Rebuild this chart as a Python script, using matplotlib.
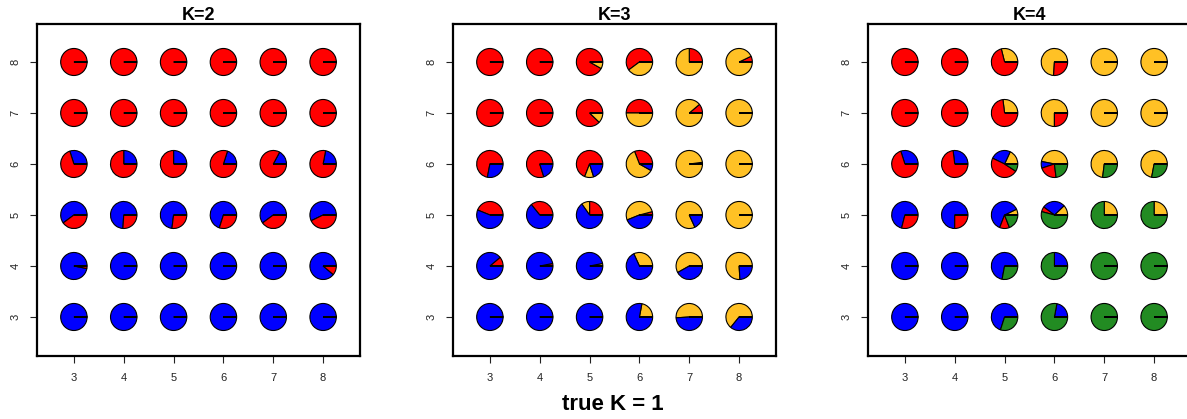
import matplotlib
matplotlib.use('Agg')
import matplotlib.pyplot as plt
from matplotlib.patches import Wedge
import numpy as np

plt.rcParams['font.family'] = ['Liberation Sans', 'DejaVu Sans']

xs = [3, 4, 5, 6, 7, 8]
ys = [3, 4, 5, 6, 7, 8]

# colours used by the clusters
col_red = '#FF0000'
col_blue = '#0000FF'
col_gold = '#FFC125'
col_green = '#228B22'

# K=2 panel, sector order: blue, red ; rows are y=3..8, cols x=3..8
k2_blue = [[1, 1, 1, 1, 1, 1],
           [0.97, 1, 1, 1, 1, 0.89],
           [0.6, 0.74, 0.73, 0.7, 0.6, 0.57],
           [0.3, 0.25, 0.25, 0.2, 0.17, 0.22],
           [0, 0, 0, 0, 0, 0],
           [0, 0, 0, 0, 0, 0]]

# K=3 panel, sector order: red, gold, blue
k3_red = [[0, 0, 0, 0, 0, 0],
          [0.11, 0.03, 0, 0, 0, 0],
          [0.44, 0.36, 0.25, 0.04, 0, 0],
          [0.72, 0.8, 0.69, 0.31, 0.02, 0],
          [1, 1, 0.88, 0.5, 0.11, 0],
          [1, 1, 0.92, 0.6, 0.25, 0.07]]
k3_gold = [[0, 0, 0, 0.22, 0.51, 0.64],
           [0, 0, 0.03, 0.32, 0.58, 0.76],
           [0, 0, 0.1, 0.52, 0.82, 1],
           [0, 0, 0.11, 0.61, 0.98, 1],
           [0, 0, 0.12, 0.5, 0.89, 1],
           [0, 0, 0.08, 0.4, 0.75, 0.93]]

# K=4 panel, sector order: gold, blue, red, green
k4_gold = [[0, 0, 0, 0, 0, 0],
           [0, 0, 0, 0, 0, 0],
           [0, 0, 0.07, 0.12, 0.25, 0.25],
           [0, 0, 0.18, 0.47, 0.73, 0.72],
           [0, 0, 0.27, 0.75, 1, 1],
           [0, 0, 0.29, 0.74, 1, 1]]
k4_blue = [[1, 1, 0.7, 0.22, 0, 0],
           [1, 1, 0.72, 0.25, 0, 0],
           [0.71, 0.75, 0.62, 0.28, 0, 0],
           [0.3, 0.27, 0.25, 0.08, 0, 0],
           [0, 0, 0, 0, 0, 0],
           [0, 0, 0, 0, 0, 0]]
k4_red = [[0, 0, 0, 0, 0, 0],
          [0, 0, 0, 0, 0, 0],
          [0.29, 0.25, 0.12, 0.06, 0, 0],
          [0.7, 0.73, 0.48, 0.22, 0, 0],
          [1, 1, 0.73, 0.25, 0, 0],
          [1, 1, 0.71, 0.26, 0, 0]]

titles = ['K=2', 'K=3', 'K=4']


def panel_fracs(k):
    # returns list of (fractions grid, colour) in drawing order
    if k == 0:
        b = np.array(k2_blue)
        return [(b, col_blue), (1 - b, col_red)]
    if k == 1:
        r = np.array(k3_red); g = np.array(k3_gold)
        return [(r, col_red), (g, col_gold), (np.clip(1 - r - g, 0, 1), col_blue)]
    g = np.array(k4_gold); b = np.array(k4_blue); r = np.array(k4_red)
    return [(g, col_gold), (b, col_blue), (r, col_red),
            (np.clip(1 - g - b - r, 0, 1), col_green)]


fig = plt.figure(figsize=(11.87, 4.19), dpi=100)
W, H = 1187.0, 419.0
lefts = [37, 453, 868]
rad = 0.265

for k in range(3):
    ax = fig.add_axes([lefts[k] / W, (H - 356) / H, 323 / W, 332 / H])
    ax.set_xlim(2.26, 8.74)
    ax.set_ylim(2.235, 8.745)
    segs = panel_fracs(k)
    for i, yv in enumerate(ys):
        for j, xv in enumerate(xs):
            start = 0.0
            for grid, c in segs:
                f = grid[i][j]
                if f <= 0.001:
                    continue
                end = start + 360 * f
                ax.add_patch(Wedge((xv, yv), rad, start, min(end, 359.999),
                                   facecolor=c, edgecolor='black', lw=0.8))
                start = end
            # radius at angle 0, as drawn by the R pie
            ax.plot([xv, xv + rad], [yv, yv], color='black', lw=1.4,
                    solid_capstyle='butt', zorder=3)
    ax.set_xticks(xs)
    ax.set_yticks(ys)
    ax.tick_params(axis='both', labelsize=8, length=5, width=0.8, colors='#222222')
    ax.tick_params(axis='x', pad=7)
    ax.tick_params(axis='y', labelrotation=90, pad=7)
    for lab in ax.get_yticklabels():
        lab.set_va('center')
    for s in ax.spines.values():
        s.set_linewidth(1.6)
    ax.set_title(titles[k], fontsize=13, fontweight='bold', pad=2)

fig.text(613 / W, 1 - 404 / H, 'true K = 1', ha='center', va='center',
         fontsize=16, fontweight='bold')

fig.savefig('out.png', dpi=100)
